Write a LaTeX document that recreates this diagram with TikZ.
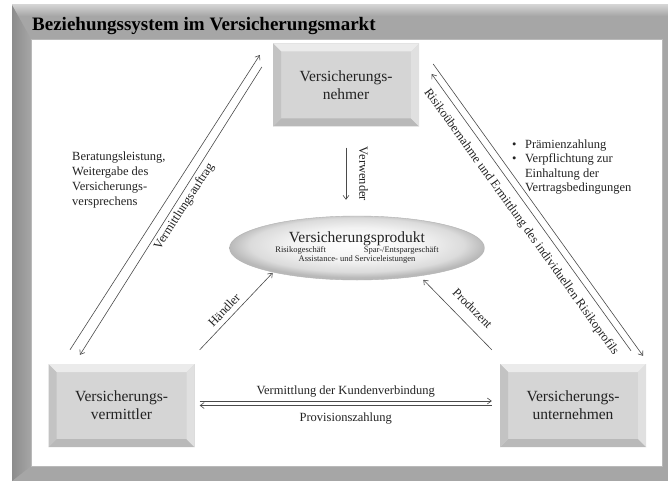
\documentclass[tikz,border=0pt]{standalone}
\usepackage{fontspec}
\setmainfont{Liberation Serif}
\usetikzlibrary{shapes, arrows.meta, positioning}

\definecolor{rahmengrau}{HTML}{A6A6A6}
\definecolor{rahmenhell}{HTML}{D2D2D2}
\definecolor{rahmendunkel}{HTML}{8C8C8C}
\definecolor{boxface}{HTML}{D5D5D5}
\definecolor{bevtop}{HTML}{EBEBEB}
\definecolor{bevleft}{HTML}{C3C3C3}
\definecolor{bevright}{HTML}{E0E0E0}
\definecolor{bevbot}{HTML}{B9B9B9}
\definecolor{liniengrau}{HTML}{4A4A4A}
\definecolor{textgrau}{HTML}{222222}

\pgfdeclareradialshading{produktglanz}{\pgfpoint{0bp}{4bp}}{%
  color(0bp)=(white); color(13bp)=(gray!10); color(21bp)=(gray!28);
  color(25bp)=(gray!55); color(50bp)=(gray!55)}

\begin{document}
\begin{tikzpicture}[x=1pt, y=-1pt,
  conn/.style={draw=liniengrau, line width=0.6pt, -{Straight Barb[length=4pt,width=6pt]}},
  lbl/.style={font=\fontsize{12.5}{15}\selectfont, text=textgrau, inner sep=0pt},
  bevelbox/.style={minimum width=146pt, minimum height=83pt, inner sep=0pt, align=center,
    fill=boxface, text=textgrau, font=\fontsize{15.5}{18}\selectfont,
    path picture={
      \fill[bevtop] (path picture bounding box.north west) -- (path picture bounding box.north east)
        -- ([shift={(-8pt,-8pt)}]path picture bounding box.north east)
        -- ([shift={(8pt,-8pt)}]path picture bounding box.north west) -- cycle;
      \fill[bevbot] (path picture bounding box.south west) -- (path picture bounding box.south east)
        -- ([shift={(-8pt,8pt)}]path picture bounding box.south east)
        -- ([shift={(8pt,8pt)}]path picture bounding box.south west) -- cycle;
      \fill[bevleft] (path picture bounding box.north west) -- (path picture bounding box.south west)
        -- ([shift={(8pt,8pt)}]path picture bounding box.south west)
        -- ([shift={(8pt,-8pt)}]path picture bounding box.north west) -- cycle;
      \fill[bevright] (path picture bounding box.north east) -- (path picture bounding box.south east)
        -- ([shift={(-8pt,8pt)}]path picture bounding box.south east)
        -- ([shift={(-8pt,-8pt)}]path picture bounding box.north east) -- cycle;
    }},
  produktoval/.style={ellipse, minimum width=255pt, minimum height=64pt, inner sep=0pt,
    align=center, shading=produktglanz, draw=gray!60, line width=0.4pt, text=textgrau,
    font=\fontsize{8.5}{9.5}\selectfont},
  info/.style={font=\fontsize{12.5}{15}\selectfont, text=textgrau, inner sep=0pt, align=left}]
\useasboundingbox (0,0) rectangle (668,481);

% Rahmen
\fill[rahmengrau] (12,5) rectangle (668,481);
\shade[top color=rahmenhell, bottom color=rahmengrau] (12,5) rectangle (668,16);
\shade[left color=rahmendunkel, right color=rahmengrau] (12,5) -- (31,39) -- (31,466) -- (12,481) -- cycle;
\fill[white] (31,39) rectangle (662,466);
\draw[gray!55, line width=0.5pt] (31,39) rectangle (662,466);
\node[anchor=base west, inner sep=0pt, text=black, font=\bfseries\fontsize{19}{22}\selectfont]
  (titel) at (32,31) {Beziehungssystem im Versicherungsmarkt};

% Akteure
\node[bevelbox] (nehmer) at (346,85) {Versicherungs-\\nehmer};
\node[bevelbox] (vermittler) at (121.5,405.5) {Versicherungs-\\vermittler};
\node[bevelbox] (unternehmen) at (573,405.5) {Versicherungs-\\unternehmen};
\node[produktoval] (produkt) at (357,248)
  {{\fontsize{15.5}{16}\selectfont Versicherungsprodukt}\\
   Risikogeschäft\hspace{38pt}Spar-/Entspargeschäft\\
   Assistance- und Serviceleistungen};

% Vermittler -- Nehmer
\draw[conn] ([shift={(-51.5,-14)}]vermittler.north) --
  node[lbl, pos=0.52, sloped, below=12.5pt] {Vermittlungsauftrag} ([shift={(-13,-30)}]nehmer.west);
\draw[conn] ([shift={(-11,-18)}]nehmer.west) -- ([shift={(-41.5,-9)}]vermittler.north);
\node[info, anchor=north west] (beratung) at (72,152)
  {Beratungsleistung,\\Weitergabe des\\Versicherungs-\\versprechens};

% Nehmer -- Unternehmen
\draw[conn] ([shift={(14,-21)}]nehmer.east) --
  node[lbl, pos=0.5, sloped, below=14.8pt] {Risikoübernahme und Ermittlung des individuellen Risikoprofils}
  ([shift={(70,-8)}]unternehmen.north);
\draw[conn] ([shift={(58,-13)}]unternehmen.north) -- ([shift={(12.5,-11)}]nehmer.east);
\node[info, anchor=north west, font=\fontsize{12.5}{14.5}\selectfont] (pflichten) at (512,138)
  {\begin{tabular}{@{}l@{\hspace{8.5pt}}l@{}}
   \textbullet & Prämienzahlung\\
   \textbullet & Verpflichtung zur\\
   & Einhaltung der\\
   & Vertragsbedingungen
   \end{tabular}};

% Rollen zum Produkt
\draw[conn, shorten <=21pt, shorten >=16pt] (nehmer.south) --
  node[lbl, pos=0.53, sloped, above=13pt] {Verwender} (nehmer.south |- produkt.north);
\draw[conn] ([shift={(5,-14)}]vermittler.north east) --
  node[lbl, pos=0.43, sloped, above=5pt] {Händler} ([shift={(6,2)}]produkt.south west);
\draw[conn] ([shift={(-8,-14)}]unternehmen.north west) --
  node[lbl, pos=0.44, sloped, above=10.7pt] {Produzent} ([shift={(-24,9)}]produkt.south east);

% Vermittler -- Unternehmen
\draw[conn] ([shift={(5,-4.5)}]vermittler.east) --
  node[lbl, midway, above=3.4pt] {Vermittlung der Kundenverbindung} ([shift={(-8,-4.5)}]unternehmen.west);
\draw[conn] ([shift={(-8,0)}]unternehmen.west) --
  node[lbl, midway, below=6.7pt] {Provisionszahlung} ([shift={(5,0)}]vermittler.east);
\end{tikzpicture}
\end{document}
